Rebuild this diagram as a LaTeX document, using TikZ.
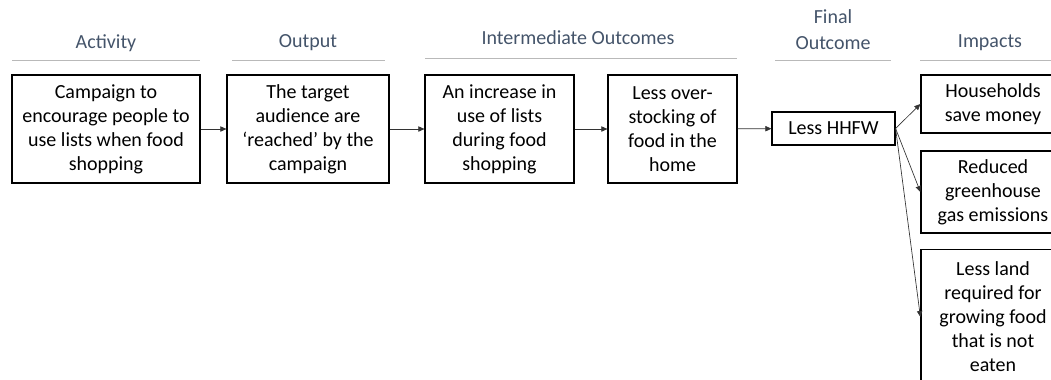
\documentclass[tikz,border=0pt]{standalone}
\usepackage{fontspec}
\setmainfont{Carlito}
\usepackage{xcolor}
\usetikzlibrary{arrows.meta}
\definecolor{headblue}{RGB}{68,84,106}

\begin{document}
\begin{tikzpicture}[
  x=0.75pt, y=-0.75pt,
  box/.style={draw, line width=0.9pt, align=center, inner sep=1pt,
              font=\fontsize{15}{18}\selectfont},
  head/.style={text=headblue, align=center, font=\fontsize{15}{19.5}\selectfont},
  rule/.style={draw=gray!55, line width=0.6pt},
  arr/.style={-{Triangle[length=4.5pt,width=4pt]}, line width=0.5pt, draw=black!80}
]
\useasboundingbox (0,0) rectangle (1051,379);

% column headings
\node[head] (hAct) at (106,43)  {Activity};
\node[head] (hOut) at (308,43)  {Output};
\node[head] (hInt) at (578,38)  {Intermediate Outcomes};
\node[head] (hFin) at (833,30)  {Final\\Outcome};
\node[head] (hImp) at (990,43)  {Impacts};

\draw[rule] (12,60)  -- (200,60);
\draw[rule] (232,60) -- (385,60);
\draw[rule] (425,58) -- (737,58);
\draw[rule] (775,60) -- (891,60);
\draw[rule] (920,60) -- (1060,60);

% chain of boxes
\node[box,minimum width=141pt,minimum height=81pt]  (act) at (106,129)
  {Campaign to\\encourage people to\\use lists when food\\shopping};
\node[box,minimum width=121.5pt,minimum height=81pt] (out) at (308,129)
  {The target\\audience are\\‘reached’ by the\\campaign};
\node[box,minimum width=111.75pt,minimum height=81pt] (inc) at (499.5,129)
  {An increase in\\use of lists\\during food\\shopping};
\node[box,minimum width=96.75pt,minimum height=81pt] (stk) at (672.5,129)
  {Less over-\\stocking of\\food in the\\home};
\node[box,minimum width=92.25pt,minimum height=24.75pt] (fw) at (833.5,128.5)
  {Less HHFW};

% impacts (boxes run off the right edge)
\node[box,minimum width=108pt,minimum height=43.5pt] (sav) at (993,104)
  {Households\\save money};
\node[box,minimum width=108pt,minimum height=61.5pt] (ghg) at (993,192)
  {Reduced\\greenhouse\\gas emissions};
\node[box,minimum width=108pt,minimum height=101pt] (lnd) at (993,317)
  {Less land\\required for\\growing food\\that is not\\eaten};

\draw[arr] (act) -- (out);
\draw[arr] (out) -- (inc);
\draw[arr] (inc) -- (stk);
\draw[arr] (stk) -- (fw);
\draw[arr] (fw.east) -- (sav.west);
\draw[arr] (fw.east) -- (ghg.west);
\draw[arr] (fw.east) -- (lnd.west);
\end{tikzpicture}
\end{document}
